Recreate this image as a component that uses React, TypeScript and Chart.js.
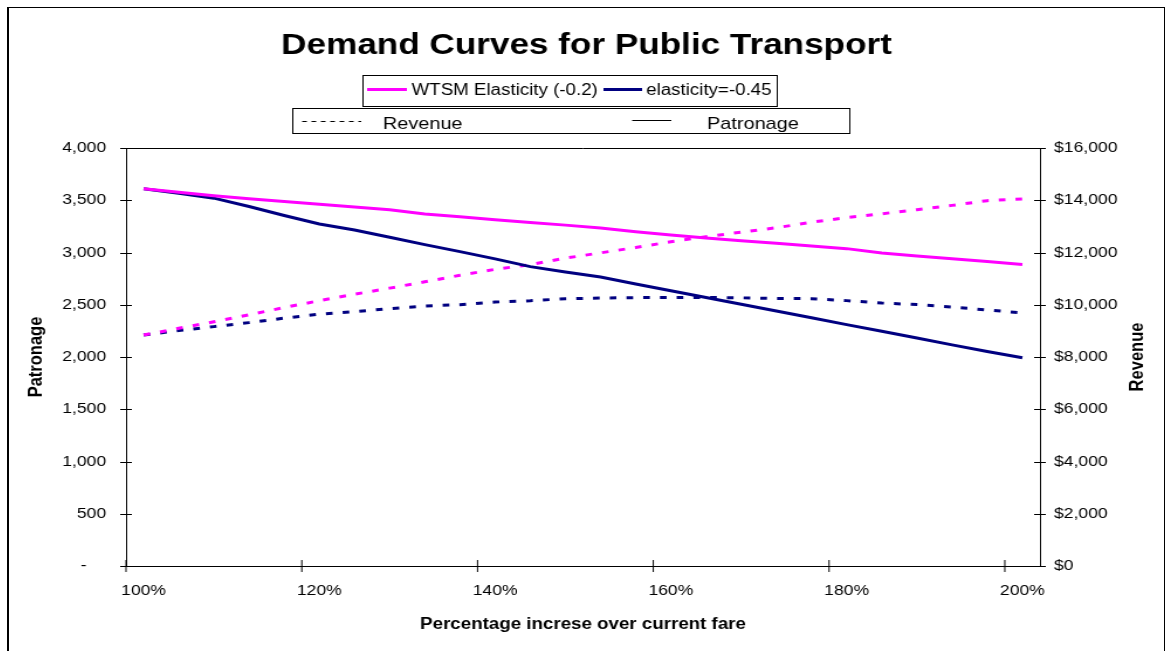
import React, { useEffect, useRef } from 'react';
import { Chart, registerables } from 'chart.js';

Chart.register(...registerables);

// ---- data ----
const fareLabels = [
  '100%', '104%', '108%', '112%', '116%', '120%', '124%', '128%', '132%', '136%',
  '140%', '144%', '148%', '152%', '156%', '160%', '164%', '168%', '172%', '176%',
  '180%', '184%', '188%', '192%', '196%', '200%',
];

const wtsmPatronage = [
  3611, 3577, 3543, 3515, 3489, 3462, 3435, 3408, 3368, 3341,
  3314, 3287, 3262, 3234, 3198, 3168, 3139, 3113, 3088, 3063,
  3037, 2995, 2967, 2940, 2913, 2886,
];

const elasticityPatronage = [
  3611, 3566, 3520, 3440, 3354, 3273, 3216, 3146, 3075, 3008,
  2939, 2865, 2813, 2765, 2699, 2634, 2569, 2504, 2440, 2375,
  2310, 2246, 2181, 2116, 2052, 1992,
];

const wtsmRevenue = [
  8840, 9098, 9347, 9615, 9894, 10154, 10403, 10636, 10877, 11130,
  11356, 11535, 11784, 11987, 12190, 12412, 12603, 12779, 12947, 13158,
  13334, 13483, 13640, 13804, 13984, 14049,
];

const elasticityRevenue = [
  8840, 9010, 9163, 9316, 9488, 9641, 9733, 9852, 9951, 10001,
  10104, 10154, 10231, 10257, 10273, 10273, 10281, 10265, 10238, 10234,
  10158, 10066, 10005, 9909, 9802, 9687,
];

const seriesNames = ['WTSM Elasticity (-0.2)', 'elasticity=-0.45'];
const styleNames = ['Revenue', 'Patronage'];
const chartTitle = 'Demand Curves for Public Transport';
const xTitle = 'Percentage increse over current fare';
const yTitle = 'Patronage';
const y1Title = 'Revenue';

const MAGENTA = '#FF00FF';
const NAVY = '#000080';
const FONT = '"Liberation Sans", Arial, Helvetica, sans-serif';

const CANVAS_W = 987;
const CANVAS_H = 650;

const overlayPlugin = {
  id: 'overlay',
  afterDraw(chart: any) {
    const ctx: CanvasRenderingContext2D = chart.ctx;
    const { left, right, top, bottom } = chart.chartArea;
    const ys = chart.scales.y;
    const y1 = chart.scales.y1;
    const xs = chart.scales.x;
    ctx.save();
    ctx.strokeStyle = '#000';
    ctx.lineWidth = 1;
    ctx.setLineDash([]);
    // plot-area top border
    ctx.beginPath();
    ctx.moveTo(left, Math.round(top) + 0.5);
    ctx.lineTo(right, Math.round(top) + 0.5);
    ctx.stroke();
    // tick marks crossing axes
    ctx.beginPath();
    ys.ticks.forEach((t: any) => {
      const p = Math.round(ys.getPixelForValue(t.value)) + 0.5;
      ctx.moveTo(left - 5, p);
      ctx.lineTo(left + 5, p);
    });
    y1.ticks.forEach((t: any) => {
      const p = Math.round(y1.getPixelForValue(t.value)) + 0.5;
      ctx.moveTo(right - 5, p);
      ctx.lineTo(right + 5, p);
    });
    const half = (xs.getPixelForValue(1) - xs.getPixelForValue(0)) / 2;
    for (let i = 0; i < fareLabels.length; i += 5) {
      const p = xs.getPixelForValue(i) - half;
      ctx.moveTo(p, bottom - 6);
      ctx.lineTo(p, bottom + 6);
    }
    ctx.stroke();

    ctx.fillStyle = '#000';
    // chart title
    ctx.font = `bold 30px ${FONT}`;
    ctx.textAlign = 'center';
    ctx.textBaseline = 'alphabetic';
    ctx.fillText(chartTitle, CANVAS_W / 2, 46);

    // axis titles
    ctx.font = `bold 16px ${FONT}`;
    ctx.fillText(xTitle, (left + right) / 2, 621);
    ctx.font = `bold 16.5px ${FONT}`;
    ctx.textBaseline = 'middle';
    ctx.save();
    ctx.translate(23, (top + bottom) / 2);
    ctx.rotate(-Math.PI / 2);
    ctx.fillText(yTitle, 0, 0);
    ctx.restore();
    ctx.save();
    ctx.translate(964, (top + bottom) / 2);
    ctx.rotate(-Math.PI / 2);
    ctx.fillText(y1Title, 0, 0);
    ctx.restore();

    // legend box 1 (series colours)
    ctx.lineWidth = 1;
    ctx.strokeStyle = '#000';
    ctx.strokeRect(302.5, 67.5, 354, 31);
    ctx.lineWidth = 3;
    ctx.strokeStyle = MAGENTA;
    ctx.beginPath();
    ctx.moveTo(306, 81.5);
    ctx.lineTo(340, 81.5);
    ctx.stroke();
    ctx.strokeStyle = NAVY;
    ctx.beginPath();
    ctx.moveTo(508, 81.5);
    ctx.lineTo(541, 81.5);
    ctx.stroke();
    ctx.font = `16px ${FONT}`;
    ctx.textAlign = 'left';
    ctx.textBaseline = 'alphabetic';
    ctx.fillText(seriesNames[0], 344, 86.5);
    ctx.fillText(seriesNames[1], 544.5, 86.5);

    // legend box 2 (line styles)
    ctx.lineWidth = 1;
    ctx.strokeStyle = '#000';
    ctx.strokeRect(242.5, 100.5, 476, 25);
    ctx.setLineDash([4, 4]);
    ctx.beginPath();
    ctx.moveTo(250.5, 113.5);
    ctx.lineTo(301, 113.5);
    ctx.stroke();
    ctx.setLineDash([]);
    ctx.beginPath();
    ctx.moveTo(532.5, 112.5);
    ctx.lineTo(566, 112.5);
    ctx.stroke();
    ctx.font = `17px ${FONT}`;
    ctx.fillText(styleNames[0], 319.5, 120.5);
    ctx.fillText(styleNames[1], 596.5, 120.5);
    ctx.restore();
  },
};

export default function App() {
  const ref = useRef<HTMLCanvasElement>(null);

  useEffect(() => {
    document.documentElement.style.overflow = 'hidden';
    const canvas = ref.current;
    if (!canvas) return;
    Chart.defaults.font.family = FONT;
    Chart.defaults.color = '#000';

    const tickFont = { size: 15, family: FONT };

    const chart = new Chart(canvas, {
      type: 'line',
      data: {
        labels: fareLabels,
        datasets: [
          {
            label: 'WTSM Patronage',
            data: wtsmPatronage,
            yAxisID: 'y',
            borderColor: MAGENTA,
            backgroundColor: MAGENTA,
            borderWidth: 3,
            pointRadius: 0,
            tension: 0,
          },
          {
            label: 'Elasticity Patronage',
            data: elasticityPatronage,
            yAxisID: 'y',
            borderColor: NAVY,
            backgroundColor: NAVY,
            borderWidth: 3,
            pointRadius: 0,
            tension: 0,
          },
          {
            label: 'WTSM Revenue',
            data: wtsmRevenue,
            yAxisID: 'y1',
            borderColor: MAGENTA,
            backgroundColor: MAGENTA,
            borderWidth: 3,
            borderDash: [5.7, 8.6],
            pointRadius: 0,
            tension: 0,
          },
          {
            label: 'Elasticity Revenue',
            data: elasticityRevenue,
            yAxisID: 'y1',
            borderColor: NAVY,
            backgroundColor: NAVY,
            borderWidth: 3,
            borderDash: [5.7, 8.6],
            pointRadius: 0,
            tension: 0,
          },
        ],
      },
      options: {
        responsive: false,
        animation: false,
        events: [],
        layout: { padding: { top: 140, left: 0, right: 0, bottom: 0 } },
        plugins: {
          legend: { display: false },
          title: { display: false },
          tooltip: { enabled: false },
        },
        scales: {
          x: {
            type: 'category',
            offset: true,
            grid: { display: false, drawTicks: false },
            border: { display: true, color: '#000', width: 1 },
            ticks: {
              autoSkip: false,
              maxRotation: 0,
              minRotation: 0,
              padding: 16,
              color: '#000',
              font: tickFont,
              callback: (_v: any, i: number) => (i % 5 === 0 ? fareLabels[i] : ''),
            },
            afterFit: (s: any) => {
              s.height = CANVAS_H - 558;
            },
          },
          y: {
            type: 'linear',
            position: 'left',
            min: 0,
            max: 4000,
            grid: { display: false, drawTicks: false },
            border: { display: true, color: '#000', width: 1 },
            ticks: {
              stepSize: 500,
              padding: 17,
              color: '#000',
              font: tickFont,
              callback: (v: any) => (Number(v) === 0 ? '-    ' : Number(v).toLocaleString('en-US')),
            },
            afterFit: (s: any) => {
              s.width = 100;
            },
          },
          y1: {
            type: 'linear',
            position: 'right',
            min: 0,
            max: 16000,
            grid: { display: false, drawTicks: false },
            border: { display: true, color: '#000', width: 1 },
            ticks: {
              stepSize: 2000,
              padding: 12,
              color: '#000',
              font: tickFont,
              callback: (v: any) => '$' + Number(v).toLocaleString('en-US'),
            },
            afterFit: (s: any) => {
              s.width = 106;
            },
          },
        },
      },
      plugins: [overlayPlugin],
    } as any);

    return () => chart.destroy();
  }, []);

  return (
    <div
      style={{
        position: 'fixed',
        left: 7,
        top: 7,
        boxSizing: 'border-box',
        width: 1158,
        height: 700,
        borderTop: '1px solid #000',
        borderRight: '1px solid #000',
        borderLeft: '2px solid #000',
        borderBottom: '1px solid #000',
        background: '#fff',
      }}
    >
      <canvas
        ref={ref}
        width={CANVAS_W}
        height={CANVAS_H}
        style={{ width: '1155px', height: `${CANVAS_H}px`, display: 'block' }}
      />
    </div>
  );
}
